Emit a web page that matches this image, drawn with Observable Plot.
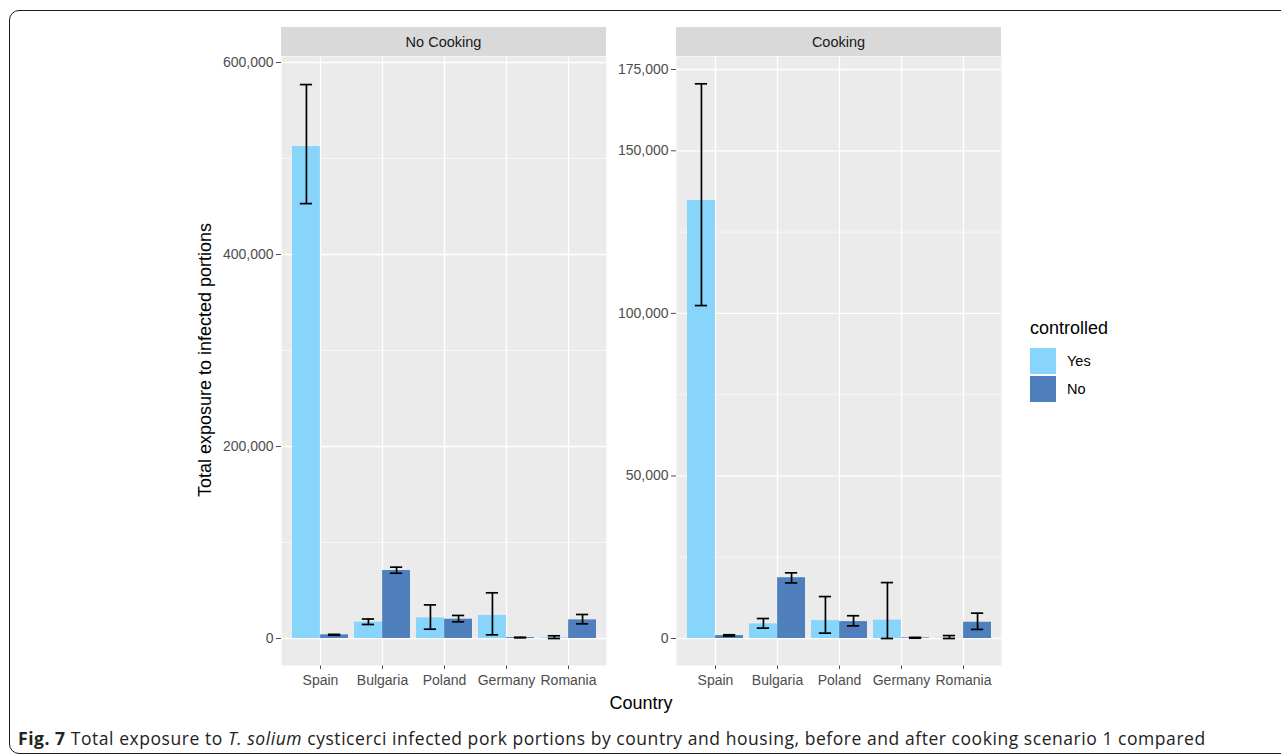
<!DOCTYPE html>
<html><head><meta charset="utf-8">
<script src="https://cdn.jsdelivr.net/npm/d3@7"></script>
<script src="https://cdn.jsdelivr.net/npm/@observablehq/plot@0.6"></script>
<style>
html,body{margin:0;padding:0;background:#fff;}
body{width:1281px;height:755px;overflow:hidden;position:relative;font-family:"Liberation Sans",Arial,sans-serif;}
#border{position:absolute;left:9px;top:10px;width:1400px;height:744px;border:1.6px solid #1a1a1a;border-radius:10px;box-sizing:border-box;}
.strip{position:absolute;top:27px;height:29px;width:325px;background:#D9D9D9;color:#1A1A1A;font-size:14.5px;text-align:center;line-height:30px;}
.plot{position:absolute;top:56px;}
#ytitle{position:absolute;left:205px;top:360px;transform:translate(-50%,-50%) rotate(-90deg);font-size:18px;color:#000;white-space:nowrap;}
#xtitle{position:absolute;left:641px;top:703px;transform:translate(-50%,-50%);font-size:18px;color:#000;white-space:nowrap;}
#legend{position:absolute;left:1030px;top:318px;}
#legend .lt{font-size:18px;color:#000;margin-bottom:8px;}
#legend .row{display:flex;align-items:center;height:28px;}
#legend .key{width:26px;height:26px;margin-right:11px;}
#legend .lab{font-size:14.5px;color:#000;}
#caption{position:absolute;left:18px;top:726px;font-family:"Open Sans",sans-serif;font-size:17.5px;letter-spacing:0.55px;color:#222;white-space:nowrap;}
</style>
</head><body>
<div id="border"></div>
<div class="strip" style="left:281px">No Cooking</div>
<div class="strip" style="left:676px">Cooking</div>
<div id="left" class="plot" style="left:190px"></div>
<div id="right" class="plot" style="left:590px"></div>
<div id="ytitle">Total exposure to infected portions</div>
<div id="xtitle">Country</div>
<div id="legend"></div>
<div id="caption"><b>Fig. 7</b> Total exposure to <i>T. solium</i> cysticerci infected pork portions by country and housing, before and after cooking scenario 1 compared</div>
<script>
// ---- data ----
const countries = ["Spain", "Bulgaria", "Poland", "Germany", "Romania"];
const controlledLevels = ["Yes", "No"];
const colors = ["#87D5FA", "#4F80BD"];

// No Cooking
const noCookYes   = [512500, 17000, 21500, 24000, 700];
const noCookYesLo = [453000, 14600,  9700,  3800,   0];
const noCookYesHi = [577000, 20300, 35000, 47600, 2800];
const noCookNo    = [3800, 70800, 20100, 1000, 19400];
const noCookNoLo  = [3400, 68000, 17400,  700, 15300];
const noCookNoHi  = [4300, 74300, 24000, 1300, 25000];

// Cooking
const cookYes   = [134700, 4500, 5500, 5650, 100];
const cookYesLo = [102400, 3200, 1650,    0,   0];
const cookYesHi = [170600, 6150, 12900, 17200, 900];
const cookNo    = [900, 18700, 5200, 200, 5000];
const cookNoLo  = [750, 17100, 3900, 100, 2800];
const cookNoHi  = [1150, 20200, 7000, 350, 7800];

const leftTicks = [0, 200000, 400000, 600000];
const leftMinor = [100000, 300000, 500000];
const rightTicks = [0, 50000, 100000, 150000, 175000];
const rightMinor = [25000, 75000, 125000];

function rowsFor(yes, yesLo, yesHi, no, noLo, noHi) {
  const rows = [];
  countries.forEach((c, i) => {
    rows.push({country: c, controlled: "Yes", value: yes[i], lo: yesLo[i], hi: yesHi[i]});
    rows.push({country: c, controlled: "No", value: no[i], lo: noLo[i], hi: noHi[i]});
  });
  return rows;
}
const noCookRows = rowsFor(noCookYes, noCookYesLo, noCookYesHi, noCookNo, noCookNoLo, noCookNoHi);
const cookRows = rowsFor(cookYes, cookYesLo, cookYesHi, cookNo, cookNoLo, cookNoHi);

const PW = 325, PH = 609, BW = 56.25, HALF = BW / 2, OFF = BW / 4, CAP = 6.25;

function panel(rows, domain, ticks, minor, marginLeft) {
  const yes = rows.filter(d => d.controlled === "Yes");
  const no = rows.filter(d => d.controlled === "No");
  return Plot.plot({
    width: marginLeft + PW, height: PH + 45,
    marginLeft, marginRight: 0, marginTop: 0, marginBottom: 45,
    style: {fontFamily: "Liberation Sans, Arial, sans-serif", fontSize: "14px", color: "#4D4D4D", background: "transparent", overflow: "visible"},
    x: {domain: countries, paddingInner: 0.1, paddingOuter: 0.15, label: null, tickSize: 4, tickPadding: 6},
    y: {domain, ticks, tickFormat: d3.format(","), label: null, tickSize: 5, tickPadding: 3},
    color: {domain: controlledLevels, range: colors},
    marks: [
      Plot.frame({fill: "#EBEBEB", stroke: null}),
      Plot.ruleY(minor, {stroke: "#fff", strokeWidth: 0.6}),
      Plot.ruleY(ticks, {stroke: "#fff", strokeWidth: 1.3}),
      Plot.ruleX(countries, {x: d => d, stroke: "#fff", strokeWidth: 1.3}),
      Plot.barY(yes, {x: "country", y: "value", fill: "controlled", insetRight: HALF}),
      Plot.barY(no, {x: "country", y: "value", fill: "controlled", insetLeft: HALF}),
      Plot.ruleX(yes, {x: "country", y1: "lo", y2: "hi", dx: -OFF, stroke: "#000", strokeWidth: 1.7}),
      Plot.ruleX(no, {x: "country", y1: "lo", y2: "hi", dx: OFF, stroke: "#000", strokeWidth: 1.7}),
      Plot.tickY(yes, {x: "country", y: "hi", insetLeft: OFF - CAP, insetRight: BW - OFF - CAP, stroke: "#000", strokeWidth: 1.7}),
      Plot.tickY(yes, {x: "country", y: "lo", insetLeft: OFF - CAP, insetRight: BW - OFF - CAP, stroke: "#000", strokeWidth: 1.7}),
      Plot.tickY(no, {x: "country", y: "hi", insetLeft: BW - OFF - CAP, insetRight: OFF - CAP, stroke: "#000", strokeWidth: 1.7}),
      Plot.tickY(no, {x: "country", y: "lo", insetLeft: BW - OFF - CAP, insetRight: OFF - CAP, stroke: "#000", strokeWidth: 1.7})
    ]
  });
}

document.getElementById("left").append(panel(noCookRows, [-28125, 606250], leftTicks, leftMinor, 91));
document.getElementById("right").append(panel(cookRows, [-8300, 179000], rightTicks, rightMinor, 86));

const lg = document.getElementById("legend");
const t = document.createElement("div"); t.className = "lt"; t.textContent = "controlled"; lg.append(t);
controlledLevels.forEach((lev, i) => {
  const r = document.createElement("div"); r.className = "row";
  const k = document.createElement("div"); k.className = "key"; k.style.background = colors[i];
  const l = document.createElement("div"); l.className = "lab"; l.textContent = lev;
  r.append(k, l); lg.append(r);
});
</script>
</body></html>
